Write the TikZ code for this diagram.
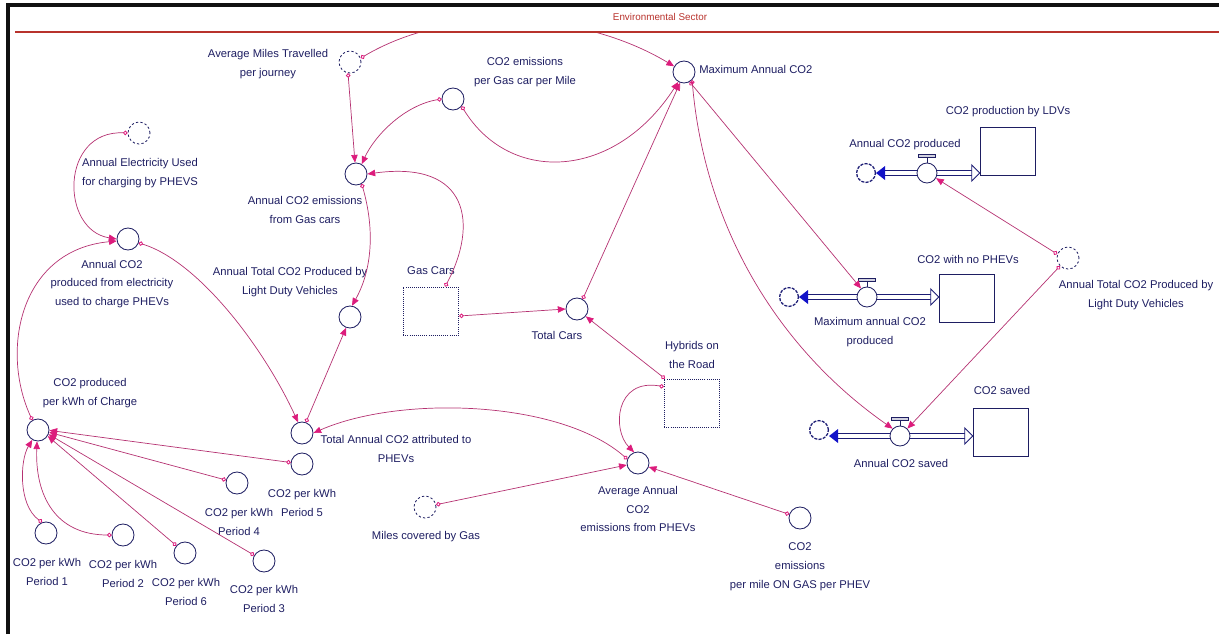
\documentclass[tikz,border=0pt]{standalone}
\usepackage{fontspec}
\setmainfont{Liberation Sans}
\usetikzlibrary{arrows.meta}
\definecolor{Ink}{HTML}{1E1E62}
\definecolor{Link}{HTML}{B53272}
\definecolor{Tip}{HTML}{DC1C7C}
\definecolor{Pipe}{HTML}{1C1C74}
\definecolor{PipeHead}{HTML}{1212C8}
\definecolor{Frame}{HTML}{111111}
\definecolor{Sector}{HTML}{B8322C}

\begin{document}
\begin{tikzpicture}[x=0.025cm,y=-0.025cm,
  conv/.style={circle,draw=Ink,line width=0.6pt,minimum size=0.55cm,inner sep=0pt},
  ghost/.style={conv,dash pattern=on 1.6pt off 1.6pt},
  valve/.style={circle,draw=Ink,line width=0.6pt,minimum size=0.5cm,inner sep=0pt},
  cloud/.style={circle,draw=Pipe,line width=0.9pt,minimum size=0.47cm,inner sep=0pt,dash pattern=on 2.2pt off 0.9pt},
  stock/.style={draw=Ink,line width=0.6pt,minimum width=1.39cm,minimum height=1.2cm,inner sep=0pt},
  dstock/.style={stock,dash pattern=on 0.6pt off 0.9pt},
  lab/.style={font=\fontsize{8}{13.4}\selectfont,text=Ink,align=center,inner sep=0pt},
  link/.style={Link,line width=0.5pt,{Circle[open,length=3.2pt,width=3.2pt,line width=0.6pt,color=Tip]}-{Triangle[length=5.5pt,width=4.6pt,color=Tip]}},
  pipe/.style={Pipe,line width=0.7pt}]
  \useasboundingbox (0,0) rectangle (1219,634);
  \draw[Frame,line width=2.2pt] (8,634) -- (8,5) -- (1219,5);
  \draw[Sector,line width=0.8pt] (15,32) -- (1219,32);
  \node[font=\fontsize{7}{8}\selectfont,text=Sector,inner sep=0pt] (sector) at (660,17) {Environmental Sector};

  \node[ghost] (avgmiles) at (350,62) {};
  \node[conv] (co2gas) at (453,99) {};
  \node[conv] (maxco2) at (684,72) {};
  \node[ghost] (elec) at (139,133) {};
  \node[conv] (gasem) at (356,174) {};
  \node[conv] (co2elec) at (128,239) {};
  \node[conv] (ldv) at (350,317) {};
  \node[dstock] (gascars) at (431,311) {};
  \node[conv] (totcars) at (577,309) {};
  \node[dstock] (hybrids) at (692,403) {};
  \node[conv] (phev) at (302,433) {};
  \node[conv] (perkwh) at (38,430) {};
  \node[conv] (p1) at (46,533) {};
  \node[conv] (p2) at (123,535) {};
  \node[conv] (p6) at (185,553) {};
  \node[conv] (p3) at (264,561) {};
  \node[conv] (p4) at (237,483) {};
  \node[conv] (p5) at (302,464) {};
  \node[ghost] (milesgas) at (425,507) {};
  \node[conv] (avgphev) at (638,463) {};
  \node[conv] (milegas) at (800,518) {};
  \node[ghost] (rightldv) at (1068,258) {};

  \node[cloud] (cloud1) at (866,173) {};
  \node[valve] (valve1) at (927,173) {};
  \node[stock] (stock1) at (1008,151) {};
  \node[cloud] (cloud2) at (789,297) {};
  \node[valve] (valve2) at (867,297) {};
  \node[stock] (stock2) at (967,298) {};
  \node[cloud] (cloud3) at (819,430) {};
  \node[valve] (valve3) at (900,436) {};
  \node[stock] (stock3) at (1001,432) {};

  \node[lab] (avgmiles-l) at (268,64) {Average Miles Travelled\\per journey};
  \node[lab] (co2gas-l) at (525,72) {CO2 emissions\\per Gas car per Mile};
  \node[lab,anchor=west] (maxco2-l) at (699,69) {Maximum Annual CO2};
  \node[lab] (elec-l) at (140,173) {Annual Electricity Used\\for charging by PHEVS};
  \node[lab] (gasem-l) at (305,210) {Annual CO2 emissions\\from Gas cars};
  \node[lab] (co2elec-l) at (112,284) {Annual CO2\\produced from electricity\\used to charge PHEVs};
  \node[lab] (ldv-l) at (290,282) {Annual Total CO2 Produced by\\Light Duty Vehicles};
  \node[lab] (gascars-l) at (431,271) {Gas Cars};
  \node[lab] (totcars-l) at (557,335) {Total Cars};
  \node[lab] (hybrids-l) at (692,355) {Hybrids on\\the Road};
  \node[lab] (phev-l) at (396,449) {Total Annual CO2 attributed to\\PHEVs};
  \node[lab] (perkwh-l) at (90,393) {CO2 produced\\per kWh of Charge};
  \foreach \n/\x/\y/\k in {p1/47/572/1,p2/123/574/2,p6/186/592/6,p3/264/599/3,p4/239/522/4,p5/302/503/5}
    \node[lab] (\n-l) at (\x,\y) {CO2 per kWh\\Period \k};
  \node[lab] (milesgas-l) at (426,537) {Miles covered by Gas};
  \node[lab] (avgphev-l) at (638,509) {Average Annual\\CO2\\emissions from PHEVs};
  \node[lab] (milegas-l) at (800,567) {CO2\\emissions\\per mile ON GAS per PHEV};
  \node[lab] (rightldv-l) at (1136,295) {Annual Total CO2 Produced by\\Light Duty Vehicles};
  \node[lab] (stock1-l) at (1008,112) {CO2 production by LDVs};
  \node[lab] (valve1-l) at (905,145) {Annual CO2 produced};
  \node[lab] (stock2-l) at (968,259) {CO2 with no PHEVs};
  \node[lab] (valve2-l) at (870,332) {Maximum annual CO2\\produced};
  \node[lab] (stock3-l) at (1002,390) {CO2 saved};
  \node[lab] (valve3-l) at (901,463) {Annual CO2 saved};

  \foreach \cl/\va/\st in {cloud1/valve1/stock1,cloud2/valve2/stock2,cloud3/valve3/stock3} {
    \coordinate (\st-in) at (\st.west |- \va);
    \coordinate (\cl-out) at (\cl.east |- \va);
    \foreach \d in {-2pt,2pt} {
      \draw[pipe] ([yshift=\d]\va.east) -- ([xshift=-0.18cm,yshift=\d]\st-in);
      \draw[pipe] ([yshift=\d]\va.west) -- ([xshift=0.22cm,yshift=\d]\cl-out);
    }
    \draw[Pipe,fill=white,line width=0.6pt] (\st-in) -- ++(-8,-8) -- ++(0,16) -- cycle;
    \fill[PipeHead] (\cl-out) -- ++(9,-7) -- ++(0,14) -- cycle;
    \draw[Ink,line width=0.6pt] (\va.north) -- ([yshift=0.16cm]\va.north);
    \draw[Ink,fill=Ink!20,line width=0.5pt] ([xshift=-0.22cm,yshift=0.14cm]\va.north) rectangle ([xshift=0.22cm,yshift=0.21cm]\va.north);
  }

  \begin{scope}
    \clip (15,33) rectangle (1219,634);
    \draw[link] (avgmiles.20) .. controls (450,5) and (580,10) .. (maxco2.150);
  \end{scope}
  \draw[link] (avgmiles.-100) -- (gasem.95);
  \draw[link] (co2gas.180) .. controls (405,105) and (375,135) .. (gasem.60);
  \draw[link] (co2gas.-40) .. controls (510,185) and (615,180) .. (maxco2.-120);
  \draw[link] (gascars.60) .. controls (478,225) and (470,160) .. (gasem.0);
  \draw[link] (gasem.-60) .. controls (375,230) and (372,270) .. (ldv.80);
  \draw[link] (phev.70) -- (ldv.-110);
  \draw[link] (elec.180) .. controls (60,130) and (60,230) .. (co2elec.180);
  \draw[link] (perkwh.120) .. controls (0,350) and (20,250) .. (co2elec.190);
  \draw[link] (co2elec.-20) .. controls (200,262) and (265,350) .. (phev.110);
  \draw[link] (avgphev.160) .. controls (560,400) and (400,395) .. (phev.0);
  \draw[link] (hybrids.150) .. controls (615,378) and (612,430) .. (avgphev.110);
  \draw[link] (hybrids.138) -- (totcars.-40);
  \draw[link] (gascars.-10) -- (totcars.180);
  \draw[link] (totcars.60) -- (maxco2.-110);
  \draw[link] (maxco2.-60) -- (valve2.125);
  \draw[link] (maxco2.-45) .. controls (705,230) and (780,350) .. (valve3.135);
  \draw[link] (rightldv.-135) -- (valve3.45);
  \draw[link] (rightldv.160) -- (valve1.-30);
  \draw[link] (p1.110) .. controls (18,505) and (20,460) .. (perkwh.-120);
  \draw[link] (p2.180) .. controls (55,535) and (35,495) .. (perkwh.-95);
  \foreach \s/\a in {p6/-32,p3/-22,p4/-12,p5/-2}
    \draw[link] (\s) -- (perkwh.\a);
  \draw[link] (milesgas) -- (avgphev.190);
  \draw[link] (milegas) -- (avgphev.-20);
\end{tikzpicture}
\end{document}
